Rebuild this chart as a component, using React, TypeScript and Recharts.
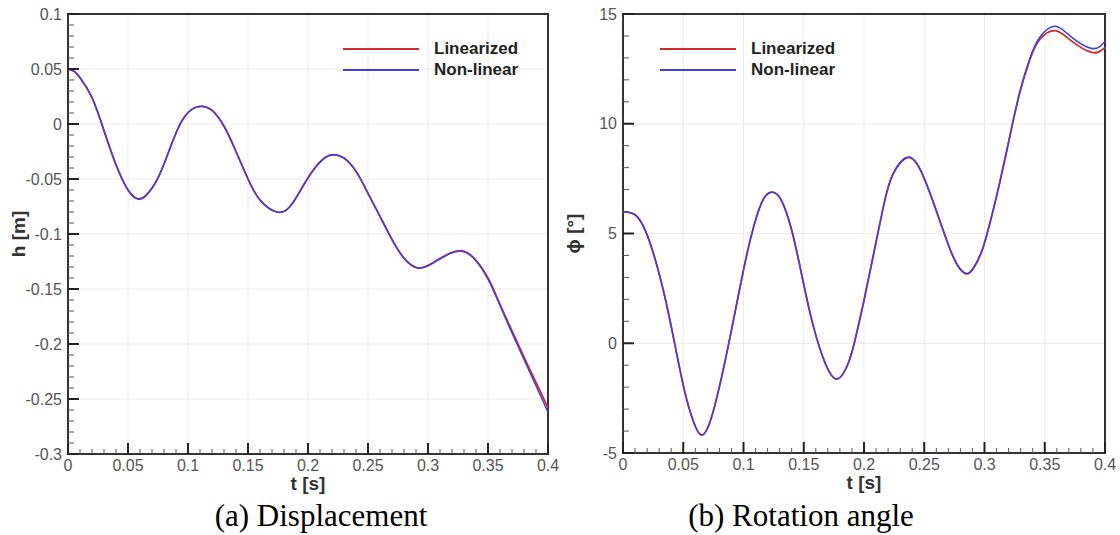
import React from 'react'
import {
  LineChart,
  Line,
  XAxis,
  YAxis,
  CartesianGrid,
  ReferenceArea,
  Legend,
  Label,
} from 'recharts'

// (a) displacement h [m]
const hTime = [
  0, 0.005, 0.01, 0.02, 0.03, 0.04, 0.05, 0.058, 0.065, 0.075, 0.085, 0.095, 0.105, 0.1125,
  0.12, 0.13, 0.14, 0.15, 0.16, 0.174, 0.185, 0.195, 0.205, 0.215, 0.2225, 0.23, 0.24, 0.25,
  0.26, 0.27, 0.28, 0.292, 0.305, 0.318, 0.328, 0.338, 0.35, 0.36, 0.37, 0.38, 0.39, 0.4,
]
const hNonLinear = [
  0.05, 0.048, 0.042, 0.024, -0.006, -0.037, -0.06, -0.068, -0.065, -0.049, -0.022, 0.003,
  0.0145, 0.016, 0.0125, -0.002, -0.025, -0.05, -0.069, -0.08, -0.075, -0.058, -0.041, -0.03,
  -0.028, -0.031, -0.043, -0.063, -0.084, -0.105, -0.122, -0.131, -0.126, -0.118, -0.1158,
  -0.122, -0.141, -0.165, -0.19, -0.214, -0.238, -0.262,
]
const hLinearized = [
  0.05, 0.048, 0.042, 0.024, -0.006, -0.037, -0.06, -0.068, -0.065, -0.049, -0.022, 0.003,
  0.0145, 0.016, 0.0125, -0.002, -0.025, -0.05, -0.069, -0.08, -0.075, -0.058, -0.041, -0.03,
  -0.028, -0.031, -0.043, -0.063, -0.084, -0.105, -0.122, -0.131, -0.1255, -0.1175, -0.1152,
  -0.1215, -0.14, -0.164, -0.188, -0.212, -0.235, -0.258,
]

// (b) rotation angle phi [deg]
const phiTime = [
  0, 0.01, 0.018, 0.026, 0.035, 0.043, 0.051, 0.058, 0.065, 0.073, 0.082, 0.09, 0.098, 0.106,
  0.115, 0.123, 0.131, 0.14, 0.148, 0.156, 0.165, 0.1765, 0.187, 0.193, 0.2, 0.2075, 0.216,
  0.224, 0.2373, 0.249, 0.26, 0.271, 0.279, 0.2855, 0.291, 0.298, 0.305, 0.3125, 0.321, 0.329,
  0.3375, 0.346, 0.3585, 0.371, 0.389, 0.4,
]
const phiNonLinear = [
  6.0, 5.85, 5.2, 3.95, 2.05, -0.05, -2.15, -3.5, -4.18, -3.45, -1.5, 0.6, 2.8, 4.8, 6.4, 6.88,
  6.55, 5.15, 3.2, 1.2, -0.5, -1.62, -0.9, 0.25, 1.95, 3.94, 6.2, 7.7, 8.48, 7.65, 6.05, 4.35,
  3.45, 3.18, 3.45, 4.25, 5.6, 7.3, 9.45, 11.4, 12.95, 13.95, 14.44, 14.0, 13.43, 13.75,
]
const phiLinearized = [
  6.0, 5.85, 5.2, 3.95, 2.05, -0.05, -2.15, -3.5, -4.18, -3.45, -1.5, 0.6, 2.8, 4.8, 6.4, 6.88,
  6.55, 5.15, 3.2, 1.2, -0.5, -1.62, -0.9, 0.25, 1.95, 3.94, 6.2, 7.7, 8.46, 7.63, 6.03, 4.33,
  3.43, 3.16, 3.43, 4.22, 5.57, 7.27, 9.4, 11.35, 12.9, 13.85, 14.24, 13.82, 13.25, 13.48,
]

// axis ticks
const tMajor = [0, 0.05, 0.1, 0.15, 0.2, 0.25, 0.3, 0.35, 0.4]
const tLabels = ['0', '0.05', '0.1', '0.15', '0.2', '0.25', '0.3', '0.35', '0.4']
const hMajor = [-0.3, -0.25, -0.2, -0.15, -0.1, -0.05, 0, 0.05, 0.1]
const hLabels = ['-0.3', '-0.25', '-0.2', '-0.15', '-0.1', '-0.05', '0', '0.05', '0.1']
const phiMajor = [-5, 0, 5, 10, 15]
const phiLabels = ['-5', '0', '5', '10', '15']

const RED = '#d42a2a'
const BLUE = '#3f3fe6'
const SANS = '"Liberation Sans", Arial, sans-serif'

// 4 minor ticks between each pair of majors
function withMinors(majors: number[]) {
  const out: number[] = []
  for (let i = 0; i < majors.length - 1; i++) {
    for (let k = 0; k < 5; k++) {
      out.push(Number((majors[i] + ((majors[i + 1] - majors[i]) * k) / 5).toFixed(6)))
    }
  }
  out.push(majors[majors.length - 1])
  return out
}

function majorIndex(majors: number[], v: number) {
  return majors.findIndex((m) => Math.abs(m - v) < 1e-7)
}

function XTick(props: any) {
  const { x, y, payload, majors, labels } = props
  const idx = majorIndex(majors, payload.value)
  const major = idx >= 0
  return (
    <g>
      <line
        x1={x}
        y1={y}
        x2={x}
        y2={y - (major ? 11 : 5)}
        stroke={major ? '#222' : '#555'}
        strokeWidth={major ? 2 : 1}
      />
      {major && (
        <text x={x} y={y + 17} textAnchor="middle" fontSize={16} fill="#555" fontFamily={SANS}>
          {labels[idx]}
        </text>
      )}
    </g>
  )
}

function YTick(props: any) {
  const { x, y, payload, majors, labels } = props
  const idx = majorIndex(majors, payload.value)
  const major = idx >= 0
  return (
    <g>
      <line
        x1={x}
        y1={y}
        x2={x + (major ? 11 : 6)}
        y2={y}
        stroke={major ? '#222' : '#555'}
        strokeWidth={major ? 2 : 1}
      />
      {major && (
        <text x={x - 6} y={y + 5.5} textAnchor="end" fontSize={16} fill="#555" fontFamily={SANS}>
          {labels[idx]}
        </text>
      )}
    </g>
  )
}

function LegendBox({ payload }: any) {
  return (
    <div style={{ fontFamily: SANS, fontWeight: 700, fontSize: 17, color: '#222' }}>
      {(payload || []).map((e: any) => (
        <div key={e.value} style={{ display: 'flex', alignItems: 'center', height: 21 }}>
          <div style={{ width: 76, height: 2, background: e.color, marginRight: 15 }} />
          <span>{e.value}</span>
        </div>
      ))}
    </div>
  )
}

interface PanelProps {
  time: number[]
  lin: number[]
  non: number[]
  yMajor: number[]
  yLabels: string[]
  yTitle: string
  legendLeft: number
  margin: { top: number; right: number; bottom: number; left: number }
}

function Panel({ time, lin, non, yMajor, yLabels, yTitle, legendLeft, margin }: PanelProps) {
  const data = time.map((t, i) => ({ t, lin: lin[i], non: non[i] }))
  const yDomain: [number, number] = [yMajor[0], yMajor[yMajor.length - 1]]
  return (
    <LineChart width={560} height={535} data={data} margin={margin}>
      <CartesianGrid
        stroke="#ececec"
        strokeWidth={1}
        verticalValues={tMajor}
        horizontalValues={yMajor}
      />
      <XAxis
        dataKey="t"
        type="number"
        domain={[0, 0.4]}
        allowDataOverflow
        ticks={withMinors(tMajor)}
        interval={0}
        tickSize={0}
        tickMargin={0}
        tickLine={false}
        axisLine={false}
        height={30}
        tick={(p: any) => <XTick {...p} majors={tMajor} labels={tLabels} />}
      >
        <Label
          content={({ viewBox }: any) => (
            <text
              x={viewBox.x + viewBox.width / 2}
              y={viewBox.y + 36}
              textAnchor="middle"
              fontSize={19}
              fontWeight={700}
              fill="#333"
              fontFamily={SANS}
            >
              t [s]
            </text>
          )}
        />
      </XAxis>
      <YAxis
        type="number"
        domain={yDomain}
        allowDataOverflow
        ticks={withMinors(yMajor)}
        interval={0}
        tickSize={0}
        tickMargin={0}
        tickLine={false}
        axisLine={false}
        width={60}
        tick={(p: any) => <YTick {...p} majors={yMajor} labels={yLabels} />}
      >
        <Label
          content={({ viewBox }: any) => {
            const cx = viewBox.x + 17
            const cy = viewBox.y + viewBox.height / 2
            return (
              <text
                x={cx}
                y={cy}
                transform={`rotate(-90 ${cx} ${cy})`}
                textAnchor="middle"
                fontSize={19}
                fontWeight={700}
                fill="#333"
                fontFamily={SANS}
              >
                {yTitle}
              </text>
            )
          }}
        />
      </YAxis>
      <ReferenceArea
        x1={0}
        x2={0.4}
        y1={yDomain[0]}
        y2={yDomain[1]}
        fill="none"
        stroke="#333"
        strokeWidth={2}
      />
      <Legend
        layout="horizontal"
        verticalAlign="middle"
        align="center"
        content={<LegendBox />}
        wrapperStyle={{ left: legendLeft, top: 38.5, width: 'auto' }}
      />
      <Line
        type="natural"
        dataKey="lin"
        name="Linearized"
        stroke={RED}
        strokeWidth={1.8}
        dot={false}
        isAnimationActive={false}
      />
      <Line
        type="natural"
        dataKey="non"
        name="Non-linear"
        stroke={BLUE}
        strokeWidth={1.5}
        dot={false}
        isAnimationActive={false}
      />
    </LineChart>
  )
}

const captionStyle: React.CSSProperties = {
  position: 'absolute',
  top: 500,
  width: 400,
  textAlign: 'center',
  fontFamily: '"Liberation Serif", "Times New Roman", serif',
  fontSize: 31,
  lineHeight: '31px',
  color: '#000',
  whiteSpace: 'nowrap',
}

export default function App() {
  return (
    <div
      style={{
        position: 'absolute',
        left: 0,
        top: 0,
        width: 1120,
        height: 535,
        background: '#fff',
        overflow: 'hidden',
      }}
    >
      <div style={{ position: 'absolute', left: 0, top: 0 }}>
        <Panel
          time={hTime}
          lin={hLinearized}
          non={hNonLinear}
          yMajor={hMajor}
          yLabels={hLabels}
          yTitle="h [m]"
          legendLeft={343}
          margin={{ top: 14, right: 12, bottom: 51, left: 8 }}
        />
      </div>
      <div style={{ position: 'absolute', left: 560, top: 0 }}>
        <Panel
          time={phiTime}
          lin={phiLinearized}
          non={phiNonLinear}
          yMajor={phiMajor}
          yLabels={phiLabels}
          yTitle="ϕ [°]"
          legendLeft={100}
          margin={{ top: 14, right: 15, bottom: 52, left: 3 }}
        />
      </div>
      <div style={{ ...captionStyle, left: 321 - 200 }}>(a) Displacement</div>
      <div style={{ ...captionStyle, left: 801 - 200 }}>(b) Rotation angle</div>
    </div>
  )
}
